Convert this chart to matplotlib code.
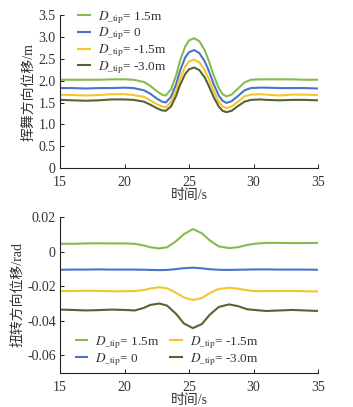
import matplotlib
matplotlib.use('Agg')
import matplotlib.pyplot as plt
from matplotlib.ticker import FuncFormatter

plt.rcParams['font.family'] = ['Liberation Serif', 'Noto Sans CJK SC']
plt.rcParams['mathtext.fontset'] = 'stix'
plt.rcParams['axes.unicode_minus'] = False

# time axes
t_top = [15, 16, 17, 18, 19, 20, 20.7, 21.5, 22.0, 22.5, 22.9, 23.2, 23.6, 24.0, 24.3, 24.7, 25.0, 25.4,
         25.8, 26.2, 26.5, 26.9, 27.3, 27.6, 27.9, 28.3, 28.8, 29.3, 29.8, 30.5, 31, 32, 33, 34, 35]
t_bot = [15, 16, 17, 18, 19, 20, 20.8, 21.5, 22.0, 22.7, 23.3, 24.0, 24.6, 25.3, 26.0, 26.6, 27.3, 28.1,
         28.8, 29.5, 30.2, 31, 32, 33, 34, 35]

# galloping displacement (m)
flap_p15 = [2.02, 2.02, 2.02, 2.02, 2.03, 2.03, 2.02, 1.97, 1.88, 1.76, 1.68, 1.66, 1.80, 2.12, 2.45, 2.78,
            2.92, 2.97, 2.90, 2.70, 2.48, 2.13, 1.83, 1.69, 1.64, 1.68, 1.82, 1.96, 2.02, 2.03, 2.03, 2.03,
            2.03, 2.02, 2.02]
flap_0 = [1.83, 1.83, 1.82, 1.83, 1.83, 1.84, 1.83, 1.78, 1.70, 1.59, 1.52, 1.50, 1.63, 1.92, 2.22, 2.53,
          2.65, 2.70, 2.63, 2.45, 2.25, 1.93, 1.66, 1.54, 1.49, 1.53, 1.65, 1.78, 1.83, 1.84, 1.84, 1.83,
          1.83, 1.83, 1.82]
flap_m15 = [1.68, 1.67, 1.66, 1.67, 1.69, 1.69, 1.67, 1.63, 1.55, 1.46, 1.41, 1.39, 1.51, 1.77, 2.04, 2.32,
            2.44, 2.48, 2.42, 2.25, 2.06, 1.77, 1.52, 1.41, 1.37, 1.41, 1.52, 1.64, 1.68, 1.69, 1.68, 1.66,
            1.68, 1.68, 1.67]
flap_m30 = [1.56, 1.55, 1.54, 1.55, 1.57, 1.57, 1.56, 1.52, 1.45, 1.37, 1.32, 1.31, 1.41, 1.65, 1.90, 2.15,
            2.26, 2.30, 2.24, 2.08, 1.90, 1.63, 1.41, 1.31, 1.28, 1.31, 1.42, 1.52, 1.56, 1.57, 1.56, 1.55,
            1.56, 1.56, 1.55]

# torsion displacement (rad)
tor_p15 = [0.0045, 0.0045, 0.0047, 0.0048, 0.0047, 0.0047, 0.0045, 0.0035, 0.0025, 0.0018, 0.0025, 0.0060,
           0.0100, 0.0130, 0.0105, 0.0065, 0.0030, 0.0020, 0.0025, 0.0038, 0.0046, 0.0050, 0.0050, 0.0049,
           0.0049, 0.0050]
tor_0 = [-0.0105, -0.0104, -0.0104, -0.0103, -0.0104, -0.0104, -0.0104, -0.0105, -0.0106, -0.0107, -0.0106,
         -0.0101, -0.0096, -0.0093, -0.0097, -0.0102, -0.0105, -0.0106, -0.0105, -0.0104, -0.0103, -0.0103,
         -0.0104, -0.0104, -0.0104, -0.0105]
tor_m15 = [-0.0228, -0.0228, -0.0226, -0.0227, -0.0229, -0.0229, -0.0228, -0.0222, -0.0213, -0.0206, -0.0212,
           -0.0238, -0.0265, -0.0280, -0.0268, -0.0240, -0.0216, -0.0209, -0.0214, -0.0224, -0.0229, -0.0228,
           -0.0228, -0.0227, -0.0229, -0.0230]
tor_m30 = [-0.0335, -0.0337, -0.0340, -0.0338, -0.0335, -0.0337, -0.0340, -0.0325, -0.0308, -0.0300, -0.0312,
           -0.0360, -0.0415, -0.0442, -0.0418, -0.0365, -0.0320, -0.0305, -0.0315, -0.0333, -0.0338, -0.0343,
           -0.0340, -0.0337, -0.0340, -0.0343]

labels = [r'$D_{\_\mathrm{tip}}$= 1.5m', r'$D_{\_\mathrm{tip}}$= 0',
          r'$D_{\_\mathrm{tip}}$= -1.5m', r'$D_{\_\mathrm{tip}}$= -3.0m']
colors = ['#86bc4f', '#4a74c9', '#f7c52a', '#56652f']
top_ticks = [0, 0.5, 1.0, 1.5, 2.0, 2.5, 3.0, 3.5]
bot_ticks = [-0.06, -0.04, -0.02, 0, 0.02]
x_ticks = [15, 20, 25, 30, 35]

text_color = '#333333'
fs = 10
leg_fs = 9.5

fig = plt.figure(figsize=(3.53, 4.07), dpi=100)
ax1 = fig.add_axes([0.170, 0.587, 0.731, 0.376])
ax2 = fig.add_axes([0.170, 0.084, 0.731, 0.383])


def style_axes(ax):
    for s in ['top', 'right']:
        ax.spines[s].set_visible(False)
    for s in ['left', 'bottom']:
        ax.spines[s].set_color('#222222')
        ax.spines[s].set_linewidth(0.8)
    ax.tick_params(direction='in', length=3, width=0.7, labelsize=fs, colors='#222222',
                   labelcolor=text_color, pad=3)
    ax.tick_params(axis='x', pad=6)
    ax.set_xlim(15, 35)
    ax.set_xticks(x_ticks)
    ax.set_xlabel('时间/s', fontsize=fs, color=text_color, labelpad=0)


for y, c, lab in zip([flap_p15, flap_0, flap_m15, flap_m30], colors, labels):
    ax1.plot(t_top, y, color=c, lw=1.5, label=lab)
style_axes(ax1)
ax1.set_ylim(0, 3.5)
ax1.set_yticks(top_ticks)
ax1.yaxis.set_major_formatter(FuncFormatter(lambda v, p: '0' if v == 0 else f'{v:.1f}'))
ax1.set_ylabel('挥舞方向位移/m', fontsize=fs, color=text_color, labelpad=2)
ax1.legend(loc='upper left', bbox_to_anchor=(0.05, 1.075), frameon=False, fontsize=leg_fs,
           handlelength=0.9, handletextpad=0.6, labelspacing=0.0, borderaxespad=0.0,
           labelcolor=text_color)

for y, c, lab in zip([tor_p15, tor_0, tor_m15, tor_m30], colors, labels):
    ax2.plot(t_bot, y, color=c, lw=1.5, label=lab)
style_axes(ax2)
ax2.set_ylim(-0.07, 0.02)
ax2.set_yticks(bot_ticks)
ax2.yaxis.set_major_formatter(FuncFormatter(lambda v, p: '0' if abs(v) < 1e-9 else f'{v:.2f}'))
ax2.set_ylabel('扭转方向位移/rad', fontsize=fs, color=text_color, labelpad=2)
ax2.legend(loc='lower left', bbox_to_anchor=(0.04, 0.0), ncol=2, frameon=False, fontsize=leg_fs,
           handlelength=0.9, handletextpad=0.6, labelspacing=0.0, columnspacing=0.8,
           borderaxespad=0.0, labelcolor=text_color)

fig.savefig('out.png', dpi=100)
